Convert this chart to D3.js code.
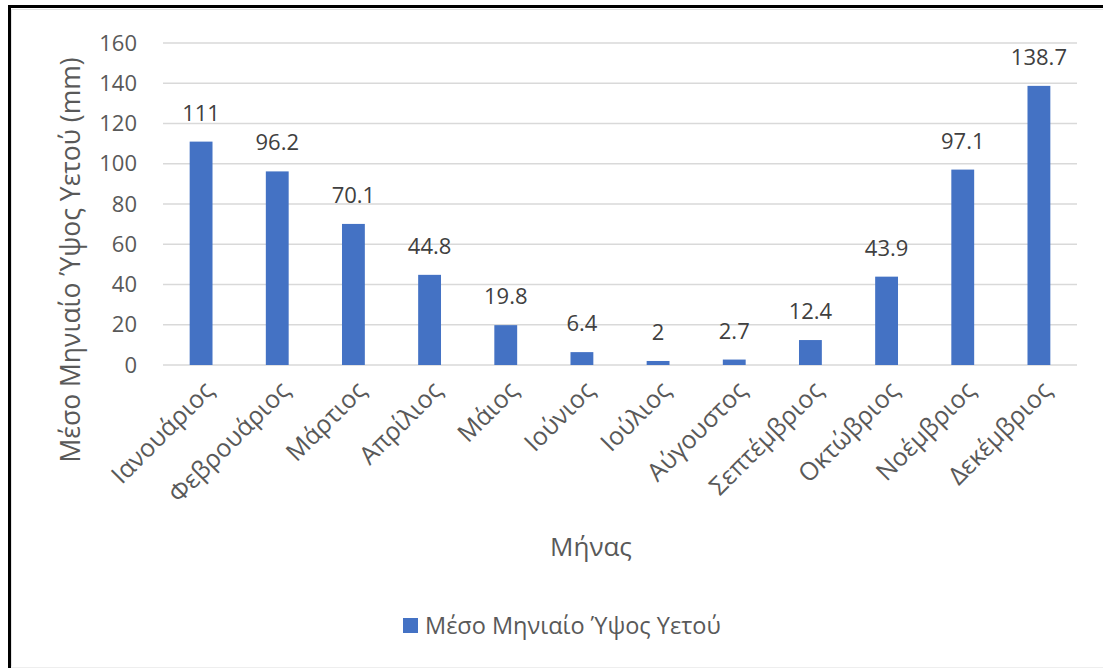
<!DOCTYPE html>
<html>
<head>
<meta charset="utf-8">
<script src="https://cdn.jsdelivr.net/npm/d3@7"></script>
<style>
  html, body { margin: 0; padding: 0; background: #fff; }
  svg { display: block; font-family: "Open Sans", "Noto Sans", sans-serif; }
</style>
</head>
<body>
<svg id="chart" width="1103" height="668"></svg>
<script>
// Monthly mean rainfall (mm)
const months = ["Ιανουάριος", "Φεβρουάριος", "Μάρτιος", "Απρίλιος", "Μάιος", "Ιούνιος",
                "Ιούλιος", "Αύγουστος", "Σεπτέμβριος", "Οκτώβριος", "Νοέμβριος", "Δεκέμβριος"];
const rainfall = [111, 96.2, 70.1, 44.8, 19.8, 6.4, 2, 2.7, 12.4, 43.9, 97.1, 138.7];
const yTicks = [0, 20, 40, 60, 80, 100, 120, 140, 160];
const seriesName = "Μέσο Μηνιαίο Ύψος Υετού";
const yTitle = "Μέσο Μηνιαίο Ύψος Υετού (mm)";
const xTitle = "Μήνας";

const svg = d3.select("#chart");
const W = 1103, H = 668;
const barColor = "#4472C4", textColor = "#595959", gridColor = "#d9d9d9";
const font = "Open Sans, sans-serif";

// frame
svg.append("rect").attr("x", 0).attr("y", 0).attr("width", W).attr("height", H).attr("fill", "#fff");
svg.append("path").attr("d", `M9.5,${H} V6.5 H${W}`).attr("fill", "none").attr("stroke", "#000").attr("stroke-width", 3);
svg.append("path").attr("d", `M11.5,${H - 1.5} V9.5 H${W}`).attr("fill", "none").attr("stroke", "#e3e3e3").attr("stroke-width", 1);
svg.append("line").attr("x1", 11).attr("x2", W).attr("y1", H - 0.5).attr("y2", H - 0.5).attr("stroke", "#eeeeee");

const plot = { left: 163, right: 1077, top: 43, bottom: 365 };

const x = d3.scaleBand().domain(months).range([plot.left, plot.right]).paddingInner(0.7).paddingOuter(0.35);
const y = d3.scaleLinear().domain([0, 160]).range([plot.bottom, plot.top]);

// gridlines
svg.append("g").selectAll("line").data(yTicks).join("line")
  .attr("x1", plot.left).attr("x2", plot.right)
  .attr("y1", d => y(d)).attr("y2", d => y(d))
  .attr("stroke", gridColor).attr("stroke-width", 1.5);

// y axis labels
const yAxis = svg.append("g").attr("transform", `translate(${plot.left},0)`)
  .call(d3.axisLeft(y).tickValues(yTicks).tickSize(0).tickPadding(26));
yAxis.select(".domain").remove();
yAxis.attr("font-size", null).attr("font-family", null);
yAxis.selectAll("text").attr("fill", textColor).style("font-size", "22px").style("font-family", font);

// bars
svg.append("g").selectAll("rect").data(rainfall).join("rect")
  .attr("x", (d, i) => x(months[i]))
  .attr("width", x.bandwidth())
  .attr("y", d => y(d))
  .attr("height", d => y(0) - y(d))
  .attr("fill", barColor);

// value labels
svg.append("g").selectAll("text").data(rainfall).join("text")
  .attr("x", (d, i) => x(months[i]) + x.bandwidth() / 2)
  .attr("y", d => y(d) - 21)
  .attr("text-anchor", "middle")
  .attr("fill", "#404040").style("font-size", "22px")
  .text(d => d);

// x axis category labels
const xAxis = svg.append("g").attr("transform", `translate(0,${plot.bottom})`)
  .call(d3.axisBottom(x).tickSize(0).tickPadding(0));
xAxis.select(".domain").remove();
xAxis.attr("font-size", null).attr("font-family", null);
xAxis.selectAll("text")
  .attr("fill", textColor).style("font-size", "25px").style("font-family", font)
  .attr("text-anchor", "end")
  .attr("dy", null).attr("y", 0)
  .attr("transform", "translate(14,27) rotate(-45)");

// axis titles
svg.append("text").attr("x", 591).attr("y", 556).attr("text-anchor", "middle")
  .attr("fill", textColor).style("font-size", "26px").text(xTitle);
svg.append("text").attr("transform", "translate(80,260) rotate(-90)").attr("text-anchor", "middle")
  .attr("fill", textColor).style("font-size", "26.5px").text(yTitle);

// legend
const legend = svg.append("g");
legend.append("rect").attr("x", 403).attr("y", 618).attr("width", 15).attr("height", 15).attr("fill", barColor);
legend.append("text").attr("x", 425).attr("y", 634).attr("fill", textColor).style("font-size", "23.5px").text(seriesName);
</script>
</body>
</html>
